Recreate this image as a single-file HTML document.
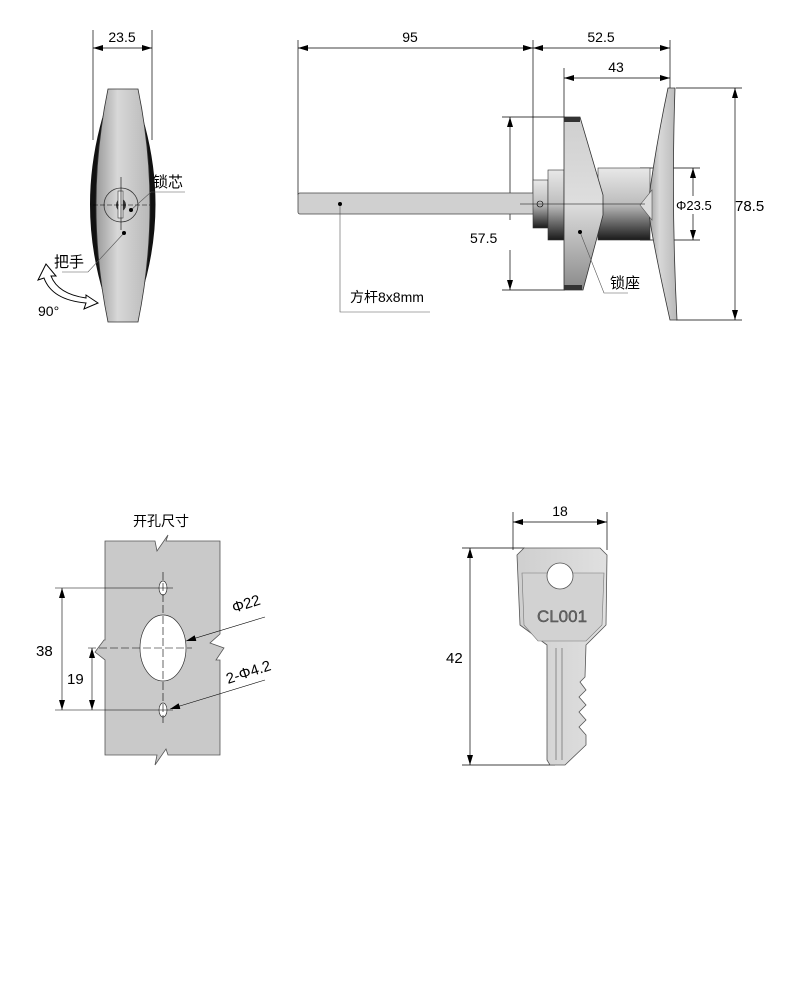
<!DOCTYPE html>
<html><head><meta charset="utf-8"><style>
html,body{margin:0;padding:0;background:#fff;}
svg{display:block;font-family:"Liberation Sans","Noto Sans CJK SC",sans-serif;}
</style></head><body>
<svg width="788" height="1000" viewBox="0 0 788 1000" xmlns="http://www.w3.org/2000/svg">
<defs>
<marker id="a" viewBox="0 0 10 6" refX="10" refY="3" markerWidth="10" markerHeight="6" orient="auto-start-reverse" markerUnits="userSpaceOnUse"><path d="M0,0L10,3L0,6z" fill="#000"/></marker>
<linearGradient id="gv" x1="0" y1="0" x2="0" y2="1"><stop offset="0" stop-color="#e8e8e8"/><stop offset="0.5" stop-color="#bdbdbd"/><stop offset="1" stop-color="#1a1a1a"/></linearGradient>
<linearGradient id="gs" x1="0" y1="0" x2="0" y2="1"><stop offset="0" stop-color="#cfcfcf"/><stop offset="0.5" stop-color="#dedede"/><stop offset="1" stop-color="#8a8a8a"/></linearGradient>
<linearGradient id="gh" x1="0" y1="0" x2="1" y2="0"><stop offset="0" stop-color="#9a9a9a"/><stop offset="0.4" stop-color="#d8d8d8"/><stop offset="1" stop-color="#b8b8b8"/></linearGradient>
<linearGradient id="gk" x1="0" y1="0" x2="1" y2="0"><stop offset="0" stop-color="#cfcfcf"/><stop offset="1" stop-color="#e0e0e0"/></linearGradient>
</defs>
<g stroke="#000" stroke-width="0.7" fill="none">
<line x1="93" y1="30" x2="93" y2="140"/><line x1="152" y1="30" x2="152" y2="140"/>
<line x1="93" y1="48" x2="152" y2="48" marker-start="url(#a)" marker-end="url(#a)"/>
</g>
<text x="122" y="42" font-size="14" text-anchor="middle">23.5</text>
<path d="M104,112 Q76,205 104,296 L114,296 Q90,205 114,112Z" fill="#111"/>
<path d="M141,112 Q170,205 141,296 L131,296 Q156,205 131,112Z" fill="#111"/>
<path d="M108,89 L138,89 Q162,205 138,322 L108,322 Q84,205 108,89Z" fill="url(#gh)" stroke="#333" stroke-width="0.8"/>
<circle cx="121" cy="205" r="17" fill="none" stroke="#333" stroke-width="0.8"/>
<path d="M116,205 a5,6 0 0 1 10,0 a5,6 0 0 1 -10,0z" fill="#333"/>
<rect x="118" y="191" width="5" height="27" fill="#eee" stroke="#333" stroke-width="0.6"/>
<g stroke="#000" stroke-width="0.6" fill="none">
<line x1="121" y1="177" x2="121" y2="230"/><line x1="93" y1="205" x2="150" y2="205" stroke-dasharray="5,2"/>
<polyline points="131,210 151,192 185,192" stroke="#555"/>
<polyline points="124,233 88,272 62,272" stroke="#555"/>
</g>
<circle cx="131" cy="210" r="2" fill="#000"/><circle cx="124" cy="233" r="2" fill="#000"/>
<text x="153" y="187" font-size="15">锁芯</text>
<text x="54" y="267" font-size="15">把手</text>
<path d="M46,264 L38,280 L44,278 Q52,300 86,303 L84,309 L98,303 L86,295 L86,298 Q58,294 51,276 L56,276Z" fill="#fff" stroke="#000" stroke-width="1"/>
<text x="38" y="316" font-size="14">90°</text>
<g stroke="#000" stroke-width="0.7" fill="none">
<line x1="298" y1="40" x2="298" y2="195"/><line x1="533" y1="40" x2="533" y2="195"/><line x1="670" y1="40" x2="670" y2="88"/>
<line x1="298" y1="48" x2="533" y2="48" marker-start="url(#a)" marker-end="url(#a)"/>
<line x1="533" y1="48" x2="670" y2="48" marker-start="url(#a)" marker-end="url(#a)"/>
<line x1="564" y1="68" x2="564" y2="118"/>
<line x1="564" y1="78" x2="670" y2="78" marker-start="url(#a)" marker-end="url(#a)"/>
<line x1="502" y1="117" x2="565" y2="117"/><line x1="502" y1="290" x2="565" y2="290"/>
<line x1="510" y1="117" x2="510" y2="220" marker-start="url(#a)"/><line x1="510" y1="250" x2="510" y2="290" marker-end="url(#a)"/>
<line x1="676" y1="88" x2="742" y2="88"/><line x1="676" y1="320" x2="742" y2="320"/>
<line x1="735" y1="88" x2="735" y2="320" marker-start="url(#a)" marker-end="url(#a)"/>
<line x1="640" y1="168" x2="700" y2="168"/><line x1="640" y1="240" x2="700" y2="240"/>
<line x1="693" y1="168" x2="693" y2="196" marker-start="url(#a)"/><line x1="693" y1="214" x2="693" y2="240" marker-end="url(#a)"/>
</g>
<text x="410" y="42" font-size="14" text-anchor="middle">95</text>
<text x="601" y="42" font-size="14" text-anchor="middle">52.5</text>
<text x="616" y="72" font-size="14" text-anchor="middle">43</text>
<text x="470" y="243" font-size="14">57.5</text>
<rect x="298" y="193" width="237" height="21" rx="2" fill="#d0d0d0" stroke="#444" stroke-width="0.8"/>
<rect x="533" y="180" width="15" height="48" fill="url(#gv)" stroke="#333" stroke-width="0.6"/>
<rect x="548" y="170" width="16" height="70" fill="url(#gv)" stroke="#333" stroke-width="0.6"/>
<rect x="598" y="168" width="52" height="72" fill="url(#gv)" stroke="#333" stroke-width="0.6"/>
<path d="M564,117 L580,117 L603,195 L603,215 L583,290 L564,290Z" fill="url(#gs)" stroke="#333" stroke-width="0.8"/>
<rect x="564" y="117" width="16" height="5" fill="#333"/><rect x="564" y="285" width="18" height="5" fill="#333"/>
<path d="M668,88 L675,88 Q671,205 677,320 L670,320 Q650,230 648,205 Q655,150 668,88Z" fill="url(#gh)" stroke="#333" stroke-width="0.8"/>
<path d="M640,205 L652,190 L652,220Z" fill="#ddd" stroke="#555" stroke-width="0.6"/>
<text x="676" y="210" font-size="13">Φ23.5</text>
<text x="735" y="211" font-size="15">78.5</text>
<g stroke="#000" stroke-width="0.6" fill="none">
<line x1="520" y1="204" x2="645" y2="204"/>
<circle cx="540" cy="204" r="3"/>
<polyline points="340,204 340,312 430,312" stroke="#555"/>
<polyline points="580,232 604,293 628,293" stroke="#555"/>
</g>
<circle cx="340" cy="204" r="2" fill="#000"/><circle cx="580" cy="232" r="2" fill="#000"/>
<text x="350" y="302" font-size="14">方杆8x8mm</text>
<text x="610" y="288" font-size="15">锁座</text>
<text x="133" y="526" font-size="14">开孔尺寸</text>
<path d="M105,541 L155,541 L157,551 L168,535 L166,541 L220,541 L220,634 L210,643 L224,648 L216,660 L220,660 L220,755 L168,755 L166,749 L155,765 L157,755 L105,755 L105,660 L95,652 L104,640 L105,640Z" fill="#c9c9c9" stroke="#555" stroke-width="0.8"/>
<ellipse cx="163" cy="648" rx="23" ry="33" fill="#fff" stroke="#333" stroke-width="0.7"/>
<ellipse cx="163" cy="588" rx="4" ry="7" fill="#fff" stroke="#333" stroke-width="0.7"/>
<ellipse cx="163" cy="710" rx="4" ry="7" fill="#fff" stroke="#333" stroke-width="0.7"/>
<g stroke="#000" stroke-width="0.6" fill="none">
<line x1="163" y1="572" x2="163" y2="725" stroke-dasharray="8,3"/>
<line x1="88" y1="648" x2="192" y2="648" stroke-dasharray="8,3"/>
<line x1="55" y1="588" x2="173" y2="588"/><line x1="55" y1="710" x2="173" y2="710"/>
<line x1="62" y1="588" x2="62" y2="710" marker-start="url(#a)" marker-end="url(#a)"/>
<line x1="92" y1="648" x2="92" y2="710" marker-start="url(#a)" marker-end="url(#a)"/>
<line x1="265" y1="617" x2="186" y2="641" marker-end="url(#a)"/>
<line x1="265" y1="680" x2="170" y2="709" marker-end="url(#a)"/>
</g>
<text x="36" y="656" font-size="15">38</text>
<text x="67" y="684" font-size="15">19</text>
<text x="234" y="613" font-size="15" transform="rotate(-18 234 613)">Φ22</text>
<text x="228" y="684" font-size="15" transform="rotate(-18 228 684)">2-Φ4.2</text>
<g stroke="#000" stroke-width="0.7" fill="none">
<line x1="513" y1="512" x2="513" y2="550"/><line x1="607" y1="512" x2="607" y2="550"/>
<line x1="513" y1="522" x2="607" y2="522" marker-start="url(#a)" marker-end="url(#a)"/>
<line x1="462" y1="548" x2="525" y2="548"/><line x1="462" y1="765" x2="555" y2="765"/>
<line x1="470" y1="548" x2="470" y2="765" marker-start="url(#a)" marker-end="url(#a)"/>
</g>
<text x="560" y="516" font-size="14" text-anchor="middle">18</text>
<text x="446" y="663" font-size="15">42</text>
<path d="M524,548 L600,548 L607,555 L606,625 L586,645 L585,677 L580,682 L586,690 L579,697 L586,705 L579,712 L586,720 L579,727 L586,735 L586,745 L565,765 L550,765 L547,760 L547,645 L520,625 L517,555Z" fill="url(#gk)" stroke="#555" stroke-width="0.8"/>
<path d="M522,573 L604,573 L602,625 L586,641 L538,641 L524,625Z" fill="#d2d2d2" stroke="#777" stroke-width="0.6"/>
<line x1="556" y1="648" x2="556" y2="760" stroke="#777" stroke-width="0.8"/>
<line x1="562" y1="648" x2="562" y2="760" stroke="#777" stroke-width="0.8"/>
<circle cx="560" cy="576" r="13" fill="#fff" stroke="#555" stroke-width="0.8"/>
<text x="562" y="622" font-size="17" text-anchor="middle" fill="#666" stroke="#444" stroke-width="0.4">CL001</text>
</svg>
</body></html>
